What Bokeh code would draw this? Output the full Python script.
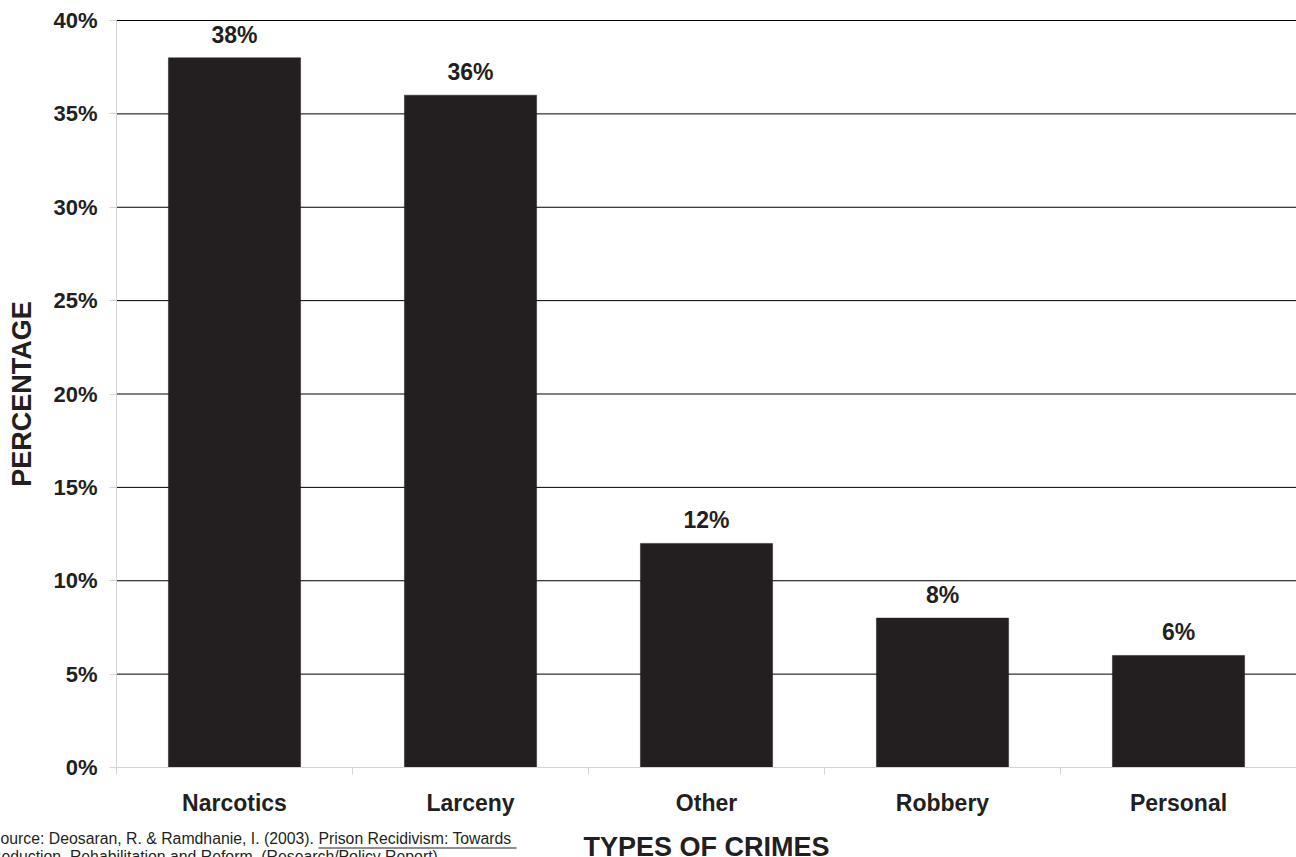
from bokeh.core.properties import value
from bokeh.embed import file_html
from bokeh.models import (BoxAnnotation, ColumnDataSource, FixedTicker, Label,
                          LabelSet, PrintfTickFormatter, Range1d)
from bokeh.plotting import figure
from bokeh.resources import INLINE

# Offences of re-admitted prisoners, share of total (%)
crimes = ["Narcotics", "Larceny", "Other", "Robbery", "Personal"]
percentages = [38, 36, 12, 8, 6]
y_ticks = [0, 5, 10, 15, 20, 25, 30, 35, 40]

source_line_1 = "Source: Deosaran, R. & Ramdhanie, I. (2003). Prison Recidivism: Towards "
source_line_2 = "Reduction, Rehabilitation and Reform. (Research/Policy Report)"

INK = "#231f20"
AXIS_GREY = "#d4d4d4"
FONT = "Liberation Sans"

# page and plotting-area geometry (px)
W, H = 1296, 857
LEFT, TOP, BOTTOM = 116, 20, 90
PLOT_W, PLOT_H = W - LEFT, H - TOP - BOTTOM

n = len(crimes)
y_max = y_ticks[-1]

# one unit per category; bars sit in the middle of each slot
centers = [i + 0.5 for i in range(n)]
bounds = list(range(n + 1))

src = ColumnDataSource(dict(
    x=centers,
    top=percentages,
    label=[f"{v}%" for v in percentages],
))

# the frame covers the whole canvas; the axes are pinned at 0 so that the
# titles and citation around them can be drawn as ordinary annotations
p = figure(
    width=W, height=H,
    x_range=Range1d(-LEFT / PLOT_W * n, n),
    y_range=Range1d(-BOTTOM / PLOT_H * y_max, y_max + TOP / PLOT_H * y_max),
    output_backend="svg", toolbar_location=None,
    min_border=0,
    background_fill_color="white", border_fill_color="white",
)
p.outline_line_color = None
p.xgrid.visible = False
p.ygrid.visible = False

# horizontal rules in black, every 5 %, across the plotting area only
rules = y_ticks[1:]
p.segment(x0=[0] * len(rules), x1=[n] * len(rules), y0=rules, y1=rules,
          line_color="black", line_width=1)

p.vbar(x="x", top="top", width=0.56, source=src,
       fill_color=INK, line_color=INK, line_width=0.5)

# y axis
ya = p.yaxis[0]
ya.fixed_location = 0
ya.bounds = (0, y_max)
ya.ticker = FixedTicker(ticks=y_ticks, minor_ticks=[])
ya.formatter = PrintfTickFormatter(format="%d%%")
ya.axis_line_color = AXIS_GREY
ya.major_tick_line_color = AXIS_GREY
ya.major_tick_out = 7
ya.major_tick_in = 0
ya.major_label_standoff = 12
ya.major_label_text_font = FONT
ya.major_label_text_font_style = "bold"
ya.major_label_text_font_size = "22px"
ya.major_label_text_color = INK
ya.axis_label = "PERCENTAGE"
ya.axis_label_standoff = 13
ya.axis_label_text_font = FONT
ya.axis_label_text_font_style = "bold"
ya.axis_label_text_font_size = "27px"
ya.axis_label_text_color = INK

# x axis: names in the slot middles, tick marks on the slot edges
xa = p.xaxis[0]
xa.fixed_location = 0
xa.bounds = (0, n)
xa.ticker = FixedTicker(ticks=centers, minor_ticks=bounds)
xa.major_label_overrides = {c: name for c, name in zip(centers, crimes)}
xa.axis_line_color = AXIS_GREY
xa.major_tick_line_color = None
xa.major_tick_out = 0
xa.major_tick_in = 0
xa.minor_tick_line_color = AXIS_GREY
xa.minor_tick_out = 7
xa.minor_tick_in = 0
xa.major_label_standoff = 15
xa.major_label_text_font = FONT
xa.major_label_text_font_style = "bold"
xa.major_label_text_font_size = "23px"
xa.major_label_text_color = INK

# value above each bar
p.add_layout(LabelSet(
    x="x", y="top", text="label", source=src,
    y_offset=15, text_align="center", text_baseline="alphabetic",
    text_font=value(FONT), text_font_style="bold", text_font_size="23px",
    text_color=INK,
))

# x axis title below the category names
p.add_layout(Label(
    x=LEFT + PLOT_W / 2, y=846, x_units="canvas", y_units="canvas",
    text="TYPES OF CRIMES",
    text_align="center", text_baseline="alphabetic",
    text_font=FONT, text_font_style="bold", text_font_size="27px",
    text_color=INK,
))

# citation, bottom left (runs off the page edges)
for line, y in ((source_line_1, 838), (source_line_2, 856)):
    p.add_layout(Label(
        x=-10.5, y=y, x_units="canvas", y_units="canvas",
        text=line, text_align="left", text_baseline="alphabetic",
        text_font=FONT, text_font_size="15.8px", text_color=INK,
    ))

# underline under the report title
p.add_layout(BoxAnnotation(
    left=318, right=516, top=847, bottom=848,
    left_units="canvas", right_units="canvas",
    top_units="canvas", bottom_units="canvas",
    fill_color=INK, fill_alpha=1, line_color=None,
))

open("out.html", "w").write(file_html(p, INLINE))
